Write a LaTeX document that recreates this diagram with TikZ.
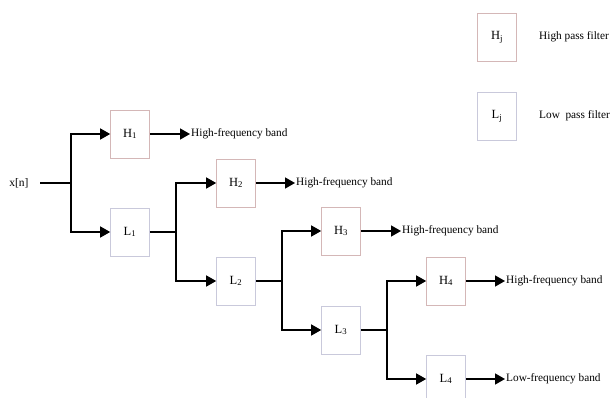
\documentclass[tikz,border=0pt]{standalone}
\usepackage{fontspec}
\setmainfont{Liberation Serif}
\usetikzlibrary{arrows.meta}
\tikzset{
  hbox/.style={draw=red!25!gray!45,line width=0.6pt,minimum width=39pt,minimum height=48pt,inner sep=0pt,font=\fontsize{12.5}{14}\selectfont},
  lbox/.style={draw=blue!20!gray!35,line width=0.6pt,minimum width=39pt,minimum height=48pt,inner sep=0pt,font=\fontsize{12.5}{14}\selectfont},
  band/.style={anchor=west,inner sep=1pt,font=\fontsize{11.3}{13}\selectfont},
  flow/.style={line width=1.5pt,-{Triangle[length=10pt,width=11pt]}},
  wire/.style={line width=1.5pt}
}
\begin{document}
\begin{tikzpicture}[x=1pt,y=-1pt]
  \clip (0,0) rectangle (611,398);
  % legend
  \node[hbox] (hj) at (497,37) {H\textsubscript{j}};
  \node[band] (hjt) at (538,37) {High pass filter};
  \node[lbox] (lj) at (497,116) {L\textsubscript{j}};
  \node[band] (ljt) at (538,116) {Low \ pass filter};
  % filter bank
  \node[font=\fontsize{11.5}{13}\selectfont] (xn) at (19,183) {x[n]};
  \coordinate (b1) at (71,183);
  \node[hbox] (h1) at (130,134) {H\textsubscript{1}};
  \node[lbox] (l1) at (130,232) {L\textsubscript{1}};
  \node[band] (o1) at (190,134) {High-frequency band};
  \coordinate (b2) at (176,232);
  \node[hbox] (h2) at (236,183) {H\textsubscript{2}};
  \node[lbox] (l2) at (236,281) {L\textsubscript{2}};
  \node[band] (o2) at (295,183) {High-frequency band};
  \coordinate (b3) at (282,281);
  \node[hbox] (h3) at (341,231) {H\textsubscript{3}};
  \node[lbox] (l3) at (341,330) {L\textsubscript{3}};
  \node[band] (o3) at (401,231) {High-frequency band};
  \coordinate (b4) at (387,330);
  \node[hbox] (h4) at (446,281) {H\textsubscript{4}};
  \node[lbox] (l4) at (446,379) {L\textsubscript{4}};
  \node[band] (o4) at (505,281) {High-frequency band};
  \node[band] (o5) at (505,379) {Low-frequency band};
  % connectors
  \draw[wire] (xn.east) ++(8,0) -- (b1);
  \draw[flow] (b1) |- (h1);
  \draw[flow] (b1) |- (l1);
  \draw[flow] (h1) -- (o1);
  \draw[wire] (l1) -- (b2);
  \draw[flow] (b2) |- (h2);
  \draw[flow] (b2) |- (l2);
  \draw[flow] (h2) -- (o2);
  \draw[wire] (l2) -- (b3);
  \draw[flow] (b3) |- (h3);
  \draw[flow] (b3) |- (l3);
  \draw[flow] (h3) -- (o3);
  \draw[wire] (l3) -- (b4);
  \draw[flow] (b4) |- (h4);
  \draw[flow] (b4) |- (l4);
  \draw[flow] (h4) -- (o4);
  \draw[flow] (l4) -- (o5);
\end{tikzpicture}
\end{document}
